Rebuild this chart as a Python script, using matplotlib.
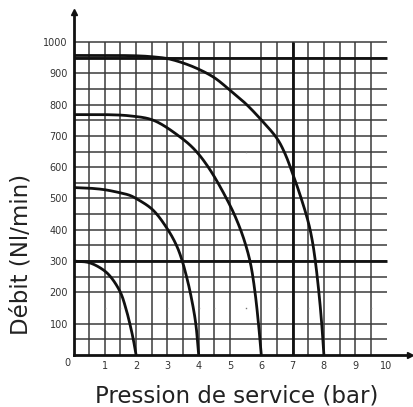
import matplotlib
matplotlib.use("Agg")
import matplotlib.pyplot as plt
import numpy as np

# Flow curves: service pressure (bar) vs flow (Nl/min)
curve_2bar_x = [0.0, 0.5, 0.95, 1.2, 1.5, 1.67, 1.8, 1.91, 2.0]
curve_2bar_y = [300, 295, 272, 248, 200, 150, 100, 50, 0]

curve_4bar_x = [0.0, 0.5, 1.0, 1.5, 1.8, 2.0, 2.53, 3.03, 3.3, 3.46, 3.6, 3.74, 3.9, 4.0]
curve_4bar_y = [535, 533, 528, 518, 510, 500, 464, 398, 348, 305, 255, 195, 105, 0]

curve_6bar_x = [0.0, 1.0, 1.8, 2.55, 3.4, 3.88, 4.36, 5.0, 5.3, 5.5, 5.66, 5.8, 5.91, 6.0]
curve_6bar_y = [768, 768, 764, 750, 697, 655, 592, 478, 410, 352, 290, 200, 100, 0]

curve_8bar_x = [0.0, 1.0, 2.0, 2.5, 3.0, 3.5, 4.0, 4.5, 5.0, 5.5, 6.0, 6.5, 6.75, 7.0,
                7.25, 7.5, 7.62, 7.72, 7.84, 7.93, 8.0]
curve_8bar_y = [957, 957, 956, 953, 947, 933, 913, 886, 846, 803, 751, 692, 645, 580,
                508, 425, 370, 305, 200, 100, 0]

x_ticks = [1, 2, 3, 4, 5, 6, 7, 8, 9, 10]
y_ticks = [100, 200, 300, 400, 500, 600, 700, 800, 900, 1000]

# Grid lines (every 0.5 bar / 50 Nl/min); heavy reference lines
grid_x = [0.5, 1, 1.5, 2, 2.5, 3, 3.5, 4, 4.5, 5, 6, 6.5, 7, 7.5, 8, 8.5, 9, 9.5]
grid_y = [50, 100, 200, 250, 300, 350, 400, 450, 500, 550, 600, 650, 700, 750,
          800, 850, 900, 950, 1000]
heavy_x = [7]
heavy_y = [300, 950]

# leftover specks of the print
speck_x = [1.0, 1.5, 3.0, 4.0, 4.5, 5.5, 6.5, 7.5, 9.5, 5.5]
speck_y = [150, 150, 150, 150, 150, 150, 150, 150, 150, 650]


def smooth(xs, ys, n=24):
    """Centripetal Catmull-Rom curve through the given points."""
    p = np.column_stack([np.asarray(xs, float), np.asarray(ys, float) / 100.0])
    p = np.vstack([2 * p[0] - p[1], p, 2 * p[-1] - p[-2]])
    out = []
    for i in range(len(p) - 3):
        p0, p1, p2, p3 = p[i], p[i + 1], p[i + 2], p[i + 3]
        t0 = 0.0
        t1 = t0 + np.linalg.norm(p1 - p0) ** 0.5
        t2 = t1 + np.linalg.norm(p2 - p1) ** 0.5
        t3 = t2 + np.linalg.norm(p3 - p2) ** 0.5
        t = np.linspace(t1, t2, n)[:, None]
        a1 = (t1 - t) / (t1 - t0) * p0 + (t - t0) / (t1 - t0) * p1
        a2 = (t2 - t) / (t2 - t1) * p1 + (t - t1) / (t2 - t1) * p2
        a3 = (t3 - t) / (t3 - t2) * p2 + (t - t2) / (t3 - t2) * p3
        b1 = (t2 - t) / (t2 - t0) * a1 + (t - t0) / (t2 - t0) * a2
        b2 = (t3 - t) / (t3 - t1) * a2 + (t - t1) / (t3 - t1) * a3
        c = (t2 - t) / (t2 - t1) * b1 + (t - t1) / (t2 - t1) * b2
        out.append(c if i == 0 else c[1:])
    c = np.vstack(out)
    return c[:, 0], c[:, 1] * 100.0


W, H = 413, 407
fig = plt.figure(figsize=(W / 100, H / 100), dpi=100)
x0_px, x1_px = 73.5, 410.0
y0_px, y1_px = 355.0, 12.0
ax = fig.add_axes([x0_px / W, 1 - y0_px / H, (x1_px - x0_px) / W, (y0_px - y1_px) / H])
xmax = (x1_px - x0_px) / 31.3
ymax = (y0_px - y1_px) / 0.313
ax.set_xlim(0, xmax)
ax.set_ylim(0, ymax)

grid_col = "#3a3a3a"
ax.vlines(grid_x, 0, 1000, colors=grid_col, linewidth=1.1, zorder=1)
ax.hlines(grid_y, 0, 10, colors=grid_col, linewidth=1.1, zorder=1)
ax.vlines(heavy_x, 0, 1000, colors="#111111", linewidth=2.0, zorder=2)
ax.hlines(heavy_y, 0, 10, colors="#111111", linewidth=2.0, zorder=2)
ax.plot(speck_x, speck_y, linestyle="none", marker="s", markersize=1.0,
        color="#777777", markeredgewidth=0, zorder=1)

for cx, cy in [(curve_2bar_x, curve_2bar_y), (curve_4bar_x, curve_4bar_y),
               (curve_6bar_x, curve_6bar_y), (curve_8bar_x, curve_8bar_y)]:
    sx, sy = smooth(cx, cy)
    ax.plot(sx, sy, color="#111111", linewidth=2.0, solid_capstyle="butt", zorder=3)

for side in ["top", "right"]:
    ax.spines[side].set_visible(False)
for side in ["left", "bottom"]:
    ax.spines[side].set_linewidth(2.0)
    ax.spines[side].set_color("#111111")

# arrow tips on the axes
ax.plot([0], [ymax], marker="^", markersize=4, color="#111111", clip_on=False, zorder=4)
ax.plot([xmax], [0], marker=">", markersize=4, color="#111111", clip_on=False, zorder=4)

ax.tick_params(length=0, labelsize=7, labelcolor="#333333", pad=4)
ax.set_xticks(x_ticks)
ax.set_xticklabels([str(v) for v in x_ticks])
ax.set_yticks(y_ticks)
ax.set_yticklabels([str(v) for v in y_ticks])
ax.text(-0.18, -8, "0", fontsize=7, color="#333333", ha="center", va="top")

fig.text(237 / W, 1 - 396 / H, "Pression de service (bar)", fontsize=16.5,
         color="#222222", ha="center", va="center")
fig.text(21 / W, 1 - 254 / H, "Débit (Nl/min)", fontsize=16.5, rotation=90,
         color="#222222", ha="center", va="center")

fig.savefig("out.png", dpi=100)
